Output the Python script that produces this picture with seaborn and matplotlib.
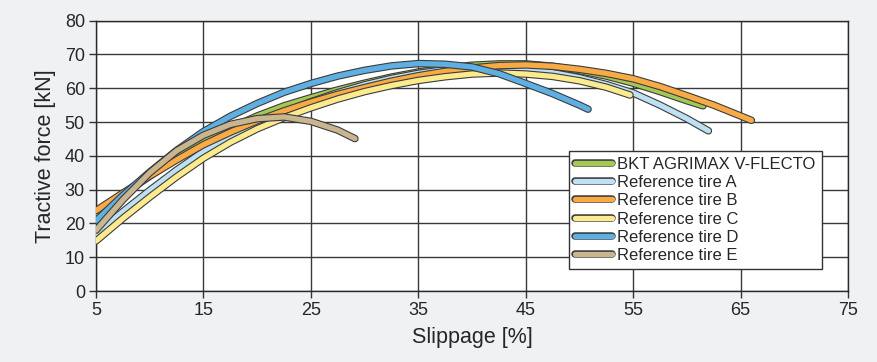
import matplotlib
matplotlib.use("Agg")
import matplotlib.pyplot as plt
import matplotlib.patheffects as pe
import seaborn as sns

# slippage [%] and tractive force [kN]
bkt_x = [5, 7.5, 10, 12.5, 15, 17.5, 20, 22.5, 25, 27.5, 30, 32.5, 35, 37.5,
         40, 42.5, 45, 47.5, 50, 52.5, 55, 57.5, 60, 61.5]
bkt_y = [22.5, 28.5, 34, 39.5, 44.2, 48.2, 51.8, 54.8, 57.2, 59.5, 61.5, 63.3,
         64.8, 66, 66.8, 67.2, 67.2, 66.5, 65.2, 63.6, 61.5, 59, 56.3, 54.8]

ref_a_x = [5, 7.5, 10, 12.5, 15, 17.5, 20, 22.5, 25, 27.5, 30, 32.5, 35, 37.5,
           40, 42.5, 45, 47.5, 50, 52.5, 55, 57.5, 60, 62]
ref_a_y = [17, 23.5, 29.8, 35.8, 41.3, 45.6, 49.4, 52.9, 56, 58.7, 61, 62.9,
           64.4, 65.5, 66, 66.1, 65.6, 64.6, 63.1, 61.1, 58.6, 55, 51, 47.4]

ref_b_x = [5, 7.5, 10, 12.5, 15, 17.5, 20, 22.5, 25, 27.5, 30, 32.5, 35, 37.5,
           40, 42.5, 45, 47.5, 50, 52.5, 55, 57.5, 60, 62.5, 65, 66]
ref_b_y = [23.8, 29, 34, 38.8, 43.3, 47, 50.4, 53.3, 55.9, 58.2, 60.2, 62.1,
           63.7, 65, 66, 66.7, 66.9, 66.5, 65.6, 64.4, 62.8, 60.5, 57.8, 55,
           51.8, 50.5]

ref_c_x = [5, 7.5, 10, 12.5, 15, 17.5, 20, 22.5, 25, 27.5, 30, 32.5, 35, 37.5,
           40, 42.5, 45, 47.5, 50, 52.5, 54.7]
ref_c_y = [14.8, 21.5, 27.8, 33.8, 39.3, 44, 48, 51.3, 54.2, 56.8, 59, 60.8,
           62.3, 63.4, 64.2, 64.5, 64.2, 63.5, 62.2, 60.3, 58]

ref_d_x = [5, 7.5, 10, 12.5, 15, 17.5, 20, 22.5, 25, 27.5, 30, 32.5, 35, 37.5,
           40, 42.5, 45, 47.5, 50, 50.8]
ref_d_y = [20.8, 28.3, 35.2, 41.6, 47.2, 51.7, 55.5, 58.8, 61.4, 63.6, 65.3,
           66.6, 67.3, 67.1, 66.3, 64.3, 61.4, 58.4, 55, 53.8]

ref_e_x = [5, 7.5, 10, 12.5, 15, 17.5, 20, 22.5, 25, 27.5, 29.1]
ref_e_y = [18, 27, 35, 41.5, 46.1, 49.3, 51, 51.5, 50.2, 47.6, 45.1]

names = ["BKT AGRIMAX V-FLECTO", "Reference tire A", "Reference tire B",
         "Reference tire C", "Reference tire D", "Reference tire E"]
colors = ["#a3c855", "#bde0f3", "#f8ab45", "#fbea8e", "#5fb0e2", "#c9b690"]

series = [(bkt_x, bkt_y), (ref_a_x, ref_a_y), (ref_b_x, ref_b_y),
          (ref_c_x, ref_c_y), (ref_d_x, ref_d_y), (ref_e_x, ref_e_y)]

sns.set_style("white")
plt.rcParams["font.family"] = ["Liberation Sans", "DejaVu Sans"]

fig, ax = plt.subplots(figsize=(8.77, 3.62), dpi=100)
fig.patch.set_facecolor("#f0f1f3")
ax.set_facecolor("white")
fig.subplots_adjust(left=0.1095, right=0.967, bottom=0.196, top=0.943)

outline = [pe.Stroke(linewidth=5.4, foreground="#3c3c3c"), pe.Normal()]

# draw order so that D and E lie on top as in the original
for i in [0, 1, 3, 2, 4, 5]:
    xs, ys = series[i]
    sns.lineplot(x=xs, y=ys, ax=ax, color=colors[i], lw=3.8, label=names[i],
                 solid_capstyle="round", path_effects=outline, zorder=3 + i,
                 legend=False)

ax.set_xlim(5, 75)
ax.set_ylim(0, 80)
ax.set_xticks(range(5, 76, 10))
ax.set_yticks(range(0, 81, 10))
ax.grid(True, color="#3a3a3a", lw=1)
ax.set_axisbelow(True)
for s in ax.spines.values():
    s.set_color("#2a2a2a")
    s.set_linewidth(1)
ax.tick_params(direction="out", length=5, width=1, color="#333333",
               labelsize=13, pad=3, left=True, bottom=True)
ax.set_xlabel("Slippage [%]", fontsize=15.5, labelpad=6)
ax.set_ylabel("Tractive force [kN]", fontsize=15.5, labelpad=6)

handles = {l.get_label(): l for l in ax.get_lines()}
leg = ax.legend([handles[n] for n in names], names, loc="upper left",
                bbox_to_anchor=(0.629, 0.519), borderaxespad=0, fontsize=12,
                frameon=True, fancybox=False, framealpha=1, edgecolor="#333333",
                handlelength=2.2, handletextpad=0.35, labelspacing=0.2,
                borderpad=0.35)
leg.get_frame().set_linewidth(1)
leg.set_zorder(20)

plt.savefig("out.png", dpi=100, facecolor=fig.get_facecolor())
